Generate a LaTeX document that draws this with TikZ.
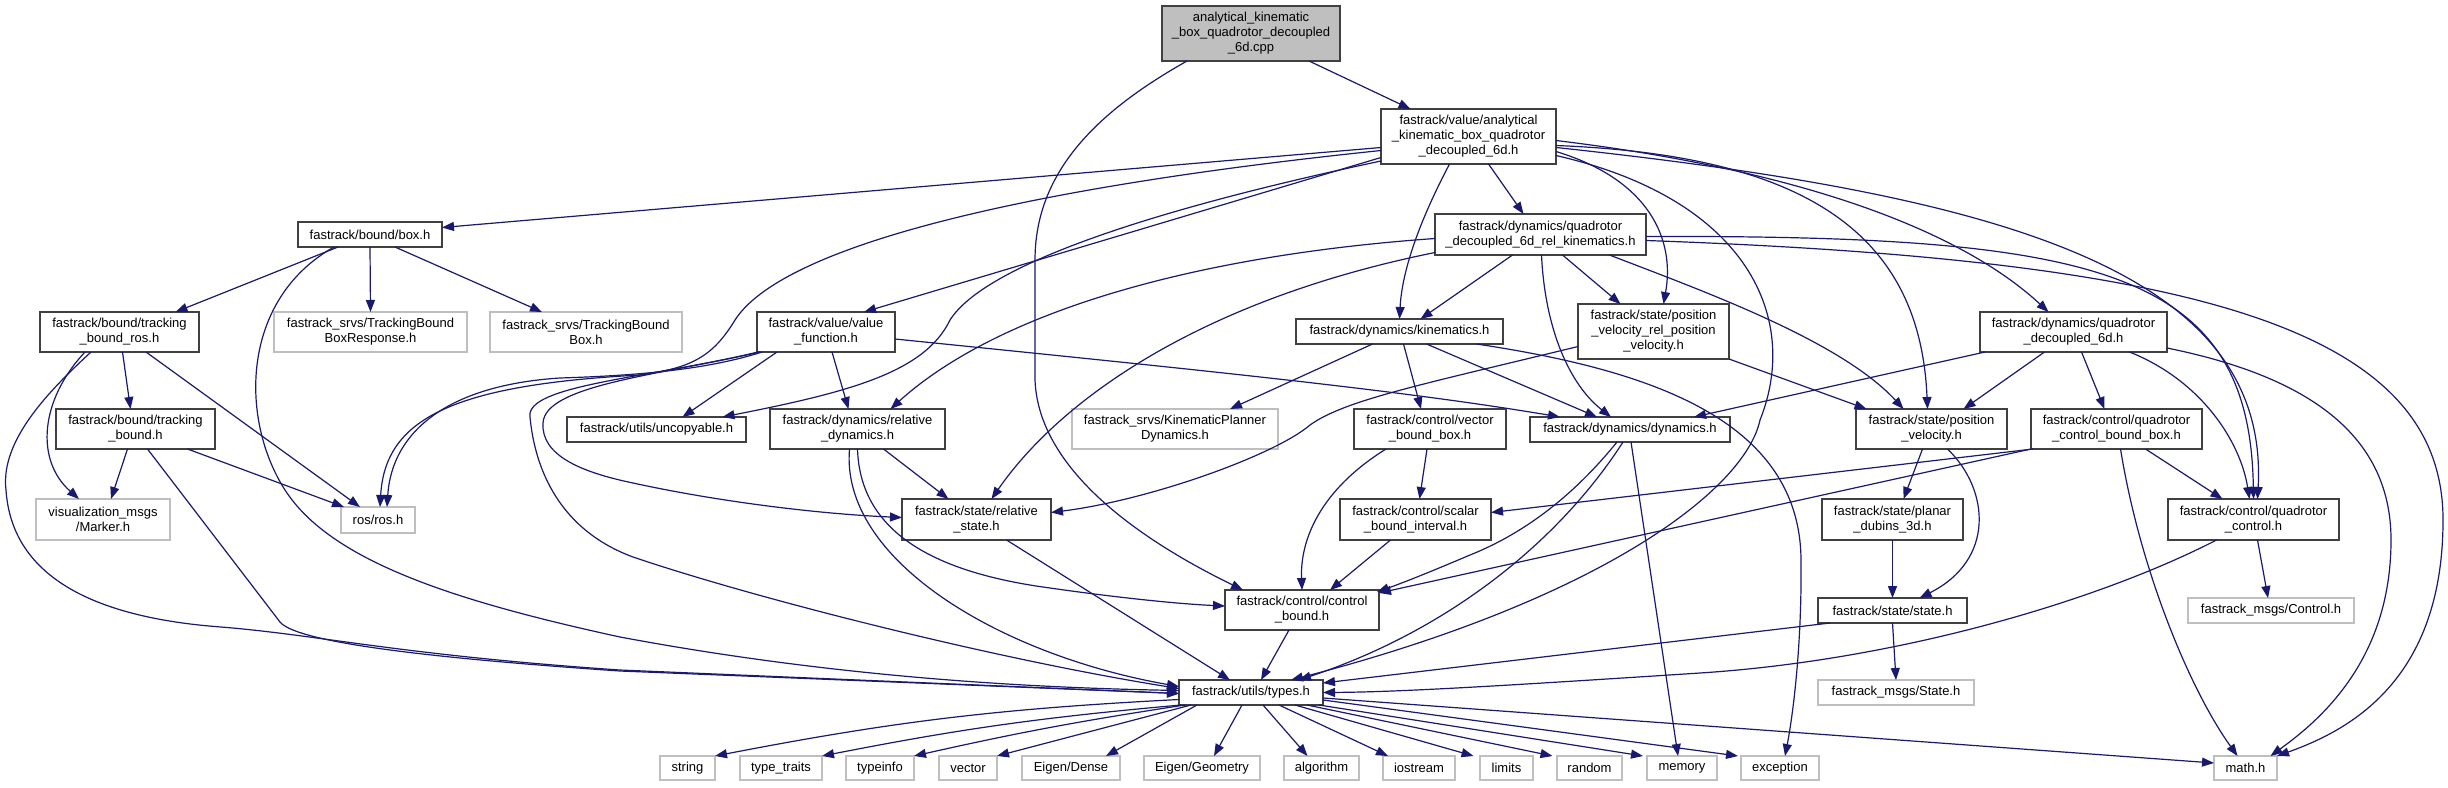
\documentclass[tikz,border=0pt]{standalone}
\usepackage{fontspec}
\setmainfont{Liberation Sans}
\usetikzlibrary{arrows.meta}
\definecolor{edgeblue}{HTML}{191970}
\definecolor{nodeborder}{HTML}{404040}
\definecolor{extborder}{HTML}{BFBFBF}
\definecolor{rootfill}{HTML}{BFBFBF}
\begin{document}
\begin{tikzpicture}[x=1pt,y=-1pt,
  every node/.style={font=\fontsize{13}{15}\selectfont, inner sep=0pt, outer sep=0pt, align=center},
  nd/.style={draw=nodeborder, line width=1.5pt, fill=white},
  ext/.style={draw=extborder, line width=1.5pt, fill=white},
  rootnd/.style={draw=nodeborder, line width=1.5pt, fill=rootfill},
  edge/.style={draw=edgeblue, line width=1.2pt, -{Triangle[length=12pt,width=9pt]}},
]
\fill[white] (0,0) rectangle (2448,787);
\useasboundingbox (0,0) rectangle (2448,787);

% nodes
\node[rootnd, minimum width=178pt, minimum height=55pt] (root) at (1251,33.5) {analytical\_kinematic\\\_box\_quadrotor\_decoupled\\\_6d.cpp};
\node[nd, minimum width=175pt, minimum height=55pt] (A) at (1468.5,136.5) {fastrack/value/analytical\\\_kinematic\_box\_quadrotor\\\_decoupled\_6d.h};
\node[nd, minimum width=144pt, minimum height=25pt] (box) at (370,234.5) {fastrack/bound/box.h};
\node[nd, minimum width=159pt, minimum height=40pt] (tbr) at (119.5,332) {fastrack/bound/tracking\\\_bound\_ros.h};
\node[ext, minimum width=193pt, minimum height=40pt] (tbbr) at (370.5,332) {fastrack\_srvs/TrackingBound\\BoxResponse.h};
\node[ext, minimum width=192pt, minimum height=40pt] (tbb) at (586,332) {fastrack\_srvs/TrackingBound\\Box.h};
\node[nd, minimum width=138pt, minimum height=40pt] (vf) at (826,332) {fastrack/value/value\\\_function.h};
\node[nd, minimum width=211pt, minimum height=41pt] (R6) at (1540.5,234.5) {fastrack/dynamics/quadrotor\\\_decoupled\_6d\_rel\_kinematics.h};
\node[nd, minimum width=207pt, minimum height=25pt] (kin) at (1399.5,331.5) {fastrack/dynamics/kinematics.h};
\node[nd, minimum width=151pt, minimum height=55pt] (pvrpv) at (1653.5,331.5) {fastrack/state/position\\\_velocity\_rel\_position\\\_velocity.h};
\node[nd, minimum width=187pt, minimum height=40pt] (Q6) at (2073.5,332) {fastrack/dynamics/quadrotor\\\_decoupled\_6d.h};
\node[nd, minimum width=159pt, minimum height=40pt] (tb) at (135.5,429) {fastrack/bound/tracking\\\_bound.h};
\node[ext, minimum width=134pt, minimum height=41pt] (marker) at (103,519.5) {visualization\_msgs\\/Marker.h};
\node[ext, minimum width=74pt, minimum height=26pt] (ros) at (378,520) {ros/ros.h};
\node[nd, minimum width=179pt, minimum height=25pt] (unc) at (656.5,429.5) {fastrack/utils/uncopyable.h};
\node[nd, minimum width=175pt, minimum height=40pt] (rd) at (857.5,429) {fastrack/dynamics/relative\\\_dynamics.h};
\node[ext, minimum width=206pt, minimum height=40pt] (kpd) at (1175,429) {fastrack\_srvs/KinematicPlanner\\Dynamics.h};
\node[nd, minimum width=152pt, minimum height=40pt] (vbb) at (1430,429) {fastrack/control/vector\\\_bound\_box.h};
\node[nd, minimum width=200pt, minimum height=25pt] (dyn) at (1630,429.5) {fastrack/dynamics/dynamics.h};
\node[nd, minimum width=151pt, minimum height=40pt] (pv) at (1931.5,429) {fastrack/state/position\\\_velocity.h};
\node[nd, minimum width=171pt, minimum height=40pt] (qcbb) at (2116.5,429) {fastrack/control/quadrotor\\\_control\_bound\_box.h};
\node[nd, minimum width=149pt, minimum height=41pt] (rs) at (976.5,519.5) {fastrack/state/relative\\\_state.h};
\node[nd, minimum width=151pt, minimum height=41pt] (sbi) at (1415.5,519.5) {fastrack/control/scalar\\\_bound\_interval.h};
\node[nd, minimum width=141pt, minimum height=41pt] (pd) at (1892.5,519.5) {fastrack/state/planar\\\_dubins\_3d.h};
\node[nd, minimum width=171pt, minimum height=41pt] (qc) at (2253.5,519.5) {fastrack/control/quadrotor\\\_control.h};
\node[nd, minimum width=154pt, minimum height=40pt] (cb) at (1302,610) {fastrack/control/control\\\_bound.h};
\node[nd, minimum width=149pt, minimum height=25pt] (st) at (1892.5,610.5) {fastrack/state/state.h};
\node[ext, minimum width=166pt, minimum height=25pt] (ctl) at (2271,610.5) {fastrack\_msgs/Control.h};
\node[nd, minimum width=144pt, minimum height=25pt] (types) at (1251,692.5) {fastrack/utils/types.h};
\node[ext, minimum width=156pt, minimum height=25pt] (St) at (1896,692.5) {fastrack\_msgs/State.h};

\node[ext, minimum width=55pt, minimum height=24pt] (nstring) at (687.5,768) {string};
\node[ext, minimum width=82pt, minimum height=24pt] (ntraits) at (781,768) {type\_traits};
\node[ext, minimum width=68pt, minimum height=24pt] (ntypeinfo) at (880,768) {typeinfo};
\node[ext, minimum width=58pt, minimum height=24pt] (nvector) at (968,768) {vector};
\node[ext, minimum width=98pt, minimum height=24pt] (ndense) at (1071,768) {Eigen/Dense};
\node[ext, minimum width=116pt, minimum height=24pt] (ngeom) at (1202,768) {Eigen/Geometry};
\node[ext, minimum width=75pt, minimum height=24pt] (nalgo) at (1321.5,768) {algorithm};
\node[ext, minimum width=72pt, minimum height=24pt] (nio) at (1419,768) {iostream};
\node[ext, minimum width=53pt, minimum height=24pt] (nlimits) at (1506.5,768) {limits};
\node[ext, minimum width=65pt, minimum height=24pt] (nrandom) at (1589.5,768) {random};
\node[ext, minimum width=70pt, minimum height=24pt] (nmemory) at (1682,768) {memory};
\node[ext, minimum width=78pt, minimum height=24pt] (nexception) at (1780,768) {exception};
\node[ext, minimum width=63pt, minimum height=24pt] (nmath) at (2245.5,768) {math.h};

% root
\draw[edge] ([xshift=58pt]root.south) -- ([xshift=-58pt]A.north);
\draw[edge] ([xshift=-64pt]root.south) .. controls (1100,110) and (1035,170) .. (1035,260) -- (1035,380) .. controls (1038,460) and (1120,530) .. ([xshift=-59pt]cb.north);

% A
\draw[edge] ([yshift=-11pt]A.west) -- ([yshift=7pt]box.east);
\draw[edge] ([yshift=-21pt]A.west) -- ([xshift=38pt]vf.north);
\draw[edge] ([yshift=-14pt]A.west) .. controls (1000,190) and (780,250) .. (735,320) .. controls (712,358) and (690,368) .. (640,375) .. controls (450,385) and (385,420) .. ([xshift=2pt]ros.north);
\draw[edge] ([yshift=3pt]A.south west) .. controls (1150,210) and (985,265) .. (950,320) .. controls (925,372) and (850,392) .. ([xshift=66pt]unc.north);
\draw[edge] ([xshift=-19pt]A.south) .. controls (1420,220) and (1402,270) .. (kin.north);
\draw[edge] ([xshift=20pt]A.south) -- ([xshift=-17pt]R6.north);
\draw[edge] ([yshift=-15pt]A.east) .. controls (1650,180) and (1675,240) .. ([xshift=10pt]pvrpv.north);
\draw[edge] ([yshift=-19pt]A.east) .. controls (1750,200) and (1800,320) .. (1760,420) .. controls (1745,490) and (1600,600) .. ([xshift=40pt]types.north);
\draw[edge] ([yshift=-9pt]A.east) .. controls (1800,155) and (1920,230) .. ([xshift=-4pt]pv.north);
\draw[edge] ([yshift=-4pt]A.east) .. controls (1800,170) and (1960,230) .. ([xshift=-25pt]Q6.north);
\draw[edge] ([yshift=-11pt]A.east) .. controls (2000,195) and (2270,270) .. ([xshift=4pt]qc.north);

% R6
\draw[edge] ([xshift=-28pt]R6.south) -- ([xshift=21pt]kin.north);
\draw[edge] ([xshift=22pt]R6.south) -- ([xshift=-33pt]pvrpv.north);
\draw[edge] ([yshift=-4pt]R6.west) .. controls (1200,255) and (1000,310) .. ([xshift=33pt]rd.north);
\draw[edge] ([yshift=-18pt]R6.west) .. controls (1200,300) and (1060,400) .. ([xshift=15pt]rs.north);
\draw[edge] ([xshift=1pt]R6.south) .. controls (1545,330) and (1570,385) .. ([xshift=-19pt]dyn.north);
\draw[edge] ([xshift=69pt]R6.south) .. controls (1700,290) and (1840,340) .. ([xshift=-28pt]pv.north);
\draw[edge] ([yshift=-2pt]R6.east) .. controls (2100,235) and (2250,270) .. (qc.north);
\draw[edge] ([yshift=-6pt]R6.east) .. controls (2200,260) and (2443,330) .. (2443,520) .. controls (2443,680) and (2350,730) .. (nmath.north east);

% Q6
\draw[edge] ([xshift=5pt]Q6.south west) -- ([xshift=64pt]dyn.north);
\draw[edge] ([xshift=-29pt]Q6.south) -- ([xshift=32pt]pv.north);
\draw[edge] ([xshift=8pt]Q6.south) -- ([xshift=-12pt]qcbb.north);
\draw[edge] ([xshift=56pt]Q6.south) .. controls (2200,380) and (2240,440) .. ([xshift=-4pt]qc.north);
\draw[edge] ([yshift=-16pt]Q6.east) .. controls (2300,375) and (2391,430) .. (2391,540) .. controls (2391,660) and (2320,720) .. ([xshift=25pt]nmath.north);

% pvrpv
\draw[edge] (pvrpv.south east) -- ([xshift=-65pt]pv.north);
\draw[edge] ([yshift=-15pt]pvrpv.west) .. controls (1420,385) and (1345,400) .. (1310,425) .. controls (1275,455) and (1150,500) .. ([yshift=7pt]rs.east);

% kin
\draw[edge] ([xshift=-27pt]kin.south) -- ([xshift=55pt]kpd.north);
\draw[edge] ([xshift=4pt]kin.south) -- ([xshift=-9pt]vbb.north);
\draw[edge] ([xshift=27pt]kin.south) -- ([xshift=-33pt]dyn.north);
\draw[edge] ([xshift=77pt]kin.south) .. controls (1650,370) and (1800,420) .. (1801,560) .. controls (1802,650) and (1792,720) .. ([xshift=5pt]nexception.north);

% vf
\draw[edge] ([xshift=20pt]vf.south west) -- ([xshift=26pt]unc.north);
\draw[edge] ([xshift=6pt]vf.south) -- ([xshift=-9pt]rd.north);
\draw[edge] ([yshift=-7pt]vf.east) .. controls (1200,370) and (1400,390) .. ([xshift=-70pt]dyn.north);
\draw[edge] ([xshift=5pt]vf.south west) .. controls (700,372) and (620,376) .. (560,378) .. controls (450,385) and (392,430) .. ([xshift=9pt]ros.north);
\draw[edge] ([xshift=3pt]vf.south west) .. controls (660,375) and (545,385) .. (543,423) .. controls (541,455) and (580,472) .. (633,483) .. controls (720,502) and (820,514) .. ([yshift=2pt]rs.west);
\draw[edge] ([xshift=1pt]vf.south west) .. controls (650,378) and (525,385) .. (530,417) .. controls (535,470) and (560,530) .. (633,557) .. controls (760,600) and (1000,660) .. ([yshift=4pt]types.west);

% box
\draw[edge] ([xshift=40pt]box.south west) -- ([xshift=56pt]tbr.north);
\draw[edge] (box.south) -- (tbbr.north);
\draw[edge] ([xshift=25pt]box.south) -- ([xshift=-44pt]tbb.north);
\draw[edge] ([xshift=36pt]box.south west) .. controls (240,300) and (240,420) .. (285,490) .. controls (330,560) and (450,600) .. (620,637) .. controls (850,680) and (1050,688) .. ([yshift=2pt]types.west);

% tbr
\draw[edge] ([xshift=3pt]tbr.south) -- ([xshift=-5pt]tb.north);
\draw[edge] ([xshift=45pt]tbr.south west) .. controls (40,400) and (35,460) .. ([xshift=-24pt]marker.north);
\draw[edge] ([xshift=51pt]tbr.south west) .. controls (50,390) and (0,440) .. (6,490) .. controls (12,580) and (100,618) .. (221,627) .. controls (320,635) and (400,655) .. (620,670) -- ([yshift=-1pt]types.west);
\draw[edge] ([xshift=106pt]tbr.south west) -- ([xshift=-18pt]ros.north);

% tb
\draw[edge] ([xshift=-8pt]tb.south) -- ([xshift=8pt]marker.north);
\draw[edge] ([xshift=52pt]tb.south) -- ([xshift=3pt]ros.north west);
\draw[edge] ([xshift=12pt]tb.south) -- (280,622) .. controls (295,640) and (400,656) .. (620,671) -- ([yshift=-1pt]types.west);

% rd
\draw[edge] ([xshift=26pt]rd.south) -- ([xshift=-28pt]rs.north);
\draw[edge] ([xshift=-8pt]rd.south) .. controls (840,560) and (1000,655) .. ([yshift=6pt]types.west);
\draw[edge] (rd.south) .. controls (860,530) and (930,572) .. (1050,588) .. controls (1120,598) and (1180,604) .. ([yshift=4pt]cb.west);

% rs
\draw[edge] ([xshift=30pt]rs.south) -- ([xshift=-21pt]types.north);

% vbb, sbi, cb
\draw[edge] ([xshift=-3pt]vbb.south) -- ([xshift=4pt]sbi.north);
\draw[edge] ([xshift=-44pt]vbb.south) .. controls (1320,490) and (1300,540) .. (cb.north);
\draw[edge] ([xshift=-25pt]sbi.south) -- ([xshift=28pt]cb.north);
\draw[edge] ([xshift=-13pt]cb.south) -- ([xshift=10pt]types.north);

% dyn
\draw[edge] ([xshift=-13pt]dyn.south) .. controls (1570,500) and (1520,535) .. (1470,555) .. controls (1430,572) and (1405,582) .. ([xshift=-2pt,yshift=-2pt]cb.north east);
\draw[edge] ([xshift=-7pt]dyn.south) .. controls (1560,540) and (1450,630) .. ([xshift=48pt]types.north);
\draw[edge] ([xshift=1pt]dyn.south) -- ([xshift=-4pt]nmemory.north);

% pv, pd, st
\draw[edge] ([xshift=-9pt]pv.south) -- ([xshift=11pt]pd.north);
\draw[edge] ([xshift=16pt]pv.south) .. controls (1990,490) and (1995,560) .. ([xshift=27pt]st.north);
\draw[edge] (pd.south) -- (st.north);
\draw[edge] (st.south) -- (St.north);
\draw[edge] ([xshift=12pt]st.south west) -- ([yshift=-3pt]types.north east);

% qcbb
\draw[edge] ([xshift=2pt]qcbb.south west) -- ([yshift=7pt]sbi.east);
\draw[edge] (qcbb.south west) -- ([yshift=-3pt]cb.north east);
\draw[edge] ([xshift=29pt]qcbb.south) -- ([xshift=-31pt]qc.north);
\draw[edge] ([xshift=4pt]qcbb.south) .. controls (2140,570) and (2190,690) .. ([xshift=-8pt]nmath.north);

% qc
\draw[edge] ([xshift=4pt]qc.south) -- ([xshift=-3pt]ctl.north);
\draw[edge] ([xshift=-37pt]qc.south) .. controls (2100,600) and (1900,660) .. (1700,673) .. controls (1500,686) and (1400,692) .. (types.east);

% types -> system headers
\draw[edge] ([yshift=-7pt]types.west) to[bend right=4] (nstring.north east);
\draw[edge] ([xshift=2pt]types.south west) to[bend right=3] (ntraits.north east);
\draw[edge] ([xshift=6pt]types.south west) to[bend right=2] (ntypeinfo.north east);
\draw[edge] ([xshift=12pt]types.south west) -- (nvector.north east);
\draw[edge] ([xshift=18pt]types.south west) -- ([xshift=35pt]ndense.north);
\draw[edge] ([xshift=-9pt]types.south) -- ([xshift=12pt]ngeom.north);
\draw[edge] ([xshift=12pt]types.south) -- ([xshift=-14pt]nalgo.north);
\draw[edge] ([xshift=28pt]types.south) -- ([xshift=-31pt]nio.north);
\draw[edge] ([xshift=44pt]types.south) -- ([xshift=-33pt]nlimits.north);
\draw[edge] ([xshift=56pt]types.south) -- ([xshift=-37pt]nrandom.north);
\draw[edge] ([xshift=-4pt]types.south east) -- ([xshift=-39pt]nmemory.north);
\draw[edge] ([yshift=5pt]types.south east) -- ([xshift=-42pt]nexception.north);
\draw[edge] ([yshift=7pt]types.south east) -- ([yshift=5pt]nmath.west);
\end{tikzpicture}
\end{document}
